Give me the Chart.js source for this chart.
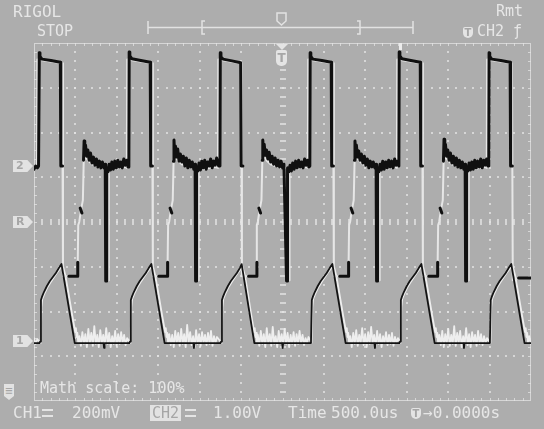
<!DOCTYPE html>
<html>
<head>
<meta charset="utf-8">
<script src="https://cdn.jsdelivr.net/npm/chart.js@4.4.0/dist/chart.umd.min.js"></script>
<style>
  html, body { margin: 0; padding: 0; background: #adadad; }
  #wrap { position: relative; width: 544px; height: 429px; overflow: hidden;
          font-family: "DejaVu Sans Mono", monospace; color: #e6e6e6; }
  #scope { position: absolute; left: 0; top: 0; }
  .t { position: absolute; white-space: pre; font-size: 16px; line-height: 16px; }
  .tag { position: absolute; width: 10px; height: 11px; background: #e4e4e4; color: #a6a6a6;
         font: bold 10px/11px "DejaVu Sans", sans-serif; text-align: center; border-radius: 2px 2px 5px 5px; }
  .tag.big { width: 11px; height: 16px; font-size: 12px; line-height: 16px; }
  .tri { position: absolute; width: 0; height: 0; border-left: 6px solid transparent;
         border-right: 6px solid transparent; border-top: 6px solid #e4e4e4; }
  .pill { position: absolute; left: 13px; width: 20px; height: 12px; box-sizing: border-box; padding-left: 3px;
          background: #e2e2e2; color: #a6a6a6; font: bold 11px/12px "DejaVu Sans", sans-serif;
          clip-path: polygon(0 0, 72% 0, 100% 50%, 72% 100%, 0 100%); }
  .inv { position: absolute; background: #e2e2e2; color: #a6a6a6; font-size: 15px; line-height: 16px; padding: 0 2px; }
  .dc { position: absolute; width: 11px; height: 4px; border-top: 2px solid #e4e4e4; border-bottom: 2px dashed #e4e4e4; }
  .mathicon { position: absolute; width: 10px; height: 16px; background: #e2e2e2; color: #a6a6a6;
              font: bold 10px/13px "DejaVu Sans", sans-serif; text-align: center;
              clip-path: polygon(0 0, 100% 0, 100% 75%, 50% 100%, 0 75%); }
</style>
</head>
<body>
<div id="wrap">
  <canvas id="scope" width="544" height="429"></canvas>

  <div class="t" style="left:13px;top:4px">RIGOL</div>
  <div class="t" style="left:37px;top:23px;font-size:15px">STOP</div>
  <div class="t" style="left:496px;top:3px;font-size:15px">Rmt</div>
  <div class="tag" style="left:463px;top:27px">T</div>
  <div class="t" style="left:477px;top:23px;font-size:15px">CH2</div>
  <div class="t" style="left:513px;top:23px;font-size:15px">ƒ</div>

  <div class="tri" style="left:276px;top:44px"></div>
  <div class="tag big" style="left:276px;top:50px">T</div>

  <div class="pill" style="top:160px">2</div>
  <div class="pill" style="top:216px">R</div>
  <div class="pill" style="top:335px">1</div>

  <div class="mathicon" style="left:4px;top:384px">≡</div>
  <div class="t" style="left:40px;top:380px;font-size:15px">Math scale: 100%</div>

  <div class="t" style="left:13px;top:405px">CH1</div>
  <div class="dc" style="left:42px;top:409px"></div>
  <div class="t" style="left:72px;top:405px">200mV</div>
  <div class="inv" style="left:150px;top:405px">CH2</div>
  <div class="dc" style="left:185px;top:409px"></div>
  <div class="t" style="left:213px;top:405px">1.00V</div>
  <div class="t" style="left:288px;top:405px">Time</div>
  <div class="t" style="left:331px;top:405px">500.0us</div>
  <div class="tag" style="left:411px;top:408px">T</div>
  <div class="t" style="left:423px;top:405px">→0.0000s</div>
</div>

<script>
// screen: 12 div x 500 us, 8 div vertical, trigger at centre
const timeMin = -3000, timeMax = 3000, timePerDiv = 500;
const ch1Scale = 200, ch1Pos = -2.66;   // mV/div, marker "1" (div from centre)
const ch2Scale = 1, ch2Pos = 1.25;      // V/div, marker "2"

// CH2 (dark trace), [time us, volts]; null = trace not drawn there
const ch2Volts = [
  [-3000, -0.07], [-2980, 0.00], [-2960, -0.04], [-2945, 0.00],
  [-2940, 0.00], [-2936, 2.53], [-2928, 2.45], [-2904, 2.39], [-2795, 2.36], [-2682, 2.32], [-2676, 0.00], [-2655, 0.00], [-2652, null],
  [-2580, -2.46], [-2475, -2.46], [-2472, -2.15], [-2470, null], [-2442, -0.94], [-2422, -1.05], [-2415, null],
  [-2402, 0.13], [-2395, 0.56], [-2387, 0.31], [-2378, 0.47], [-2365, 0.22], [-2350, 0.36], [-2334, 0.13], [-2318, 0.29], [-2300, 0.07], [-2282, 0.20], [-2264, 0.02], [-2246, 0.16], [-2228, -0.02], [-2210, 0.11], [-2192, -0.04], [-2174, 0.09], [-2156, -0.04], [-2140, 0.04],
  [-2134, -2.57], [-2126, -2.57], [-2122, -0.04],
  [-2108, -0.13], [-2092, 0.04], [-2076, -0.09], [-2060, 0.09], [-2042, -0.07], [-2024, 0.11], [-2006, -0.04], [-1988, 0.13], [-1970, -0.02], [-1952, 0.09], [-1934, -0.04], [-1916, 0.16], [-1898, 0.02], [-1880, 0.13], [-1865, -0.02],

  [-1855, 0.00], [-1851, 2.55], [-1843, 2.46], [-1819, 2.40], [-1710, 2.36], [-1597, 2.32], [-1591, 0.00], [-1570, 0.00], [-1567, null],
  [-1495, -2.46], [-1390, -2.46], [-1387, -2.15], [-1385, null], [-1357, -0.94], [-1337, -1.05], [-1330, null],
  [-1317, 0.11], [-1310, 0.58], [-1302, 0.29], [-1293, 0.45], [-1280, 0.20], [-1265, 0.38], [-1249, 0.11], [-1233, 0.27], [-1215, 0.09], [-1197, 0.22], [-1179, 0.00], [-1161, 0.18], [-1143, -0.04], [-1125, 0.13], [-1107, -0.02], [-1089, 0.09], [-1071, -0.07], [-1055, 0.04],
  [-1049, -2.57], [-1041, -2.57], [-1037, -0.04],
  [-1023, -0.11], [-1007, 0.07], [-991, -0.09], [-975, 0.11], [-957, -0.04], [-939, 0.13], [-921, -0.07], [-903, 0.09], [-885, 0.00], [-867, 0.16], [-849, -0.04], [-831, 0.11], [-813, 0.02], [-795, 0.18], [-770, 0.00],

  [-755, 0.00], [-751, 2.53], [-743, 2.44], [-719, 2.39], [-610, 2.35], [-505, 2.31], [-499, 0.00], [-478, 0.00], [-475, null],
  [-410, -2.46], [-312, -2.46], [-309, -2.15], [-307, null], [-285, -0.94], [-265, -1.05], [-258, null],
  [-245, 0.13], [-238, 0.58], [-230, 0.33], [-221, 0.49], [-208, 0.24], [-193, 0.36], [-177, 0.16], [-161, 0.31], [-143, 0.09], [-125, 0.22], [-107, 0.04], [-89, 0.18], [-71, 0.00], [-53, 0.13], [-35, -0.02], [-17, 0.11], [1, -0.04], [17, 0.04],
  [49, -2.57], [57, -2.57], [61, -0.04],
  [75, -0.13], [91, 0.02], [107, -0.11], [123, 0.07], [141, -0.07], [159, 0.11], [177, -0.04], [195, 0.13], [213, -0.02], [231, 0.09], [249, -0.04], [267, 0.16], [285, 0.02], [303, 0.13], [318, -0.02],

  [330, 0.00], [334, 2.53], [342, 2.45], [366, 2.39], [475, 2.36], [588, 2.32], [594, 0.00], [615, 0.00], [618, null],
  [690, -2.46], [795, -2.46], [798, -2.15], [800, null], [828, -0.94], [848, -1.05], [855, null],
  [868, 0.13], [875, 0.56], [883, 0.29], [892, 0.47], [905, 0.20], [920, 0.34], [936, 0.13], [952, 0.27], [970, 0.07], [988, 0.22], [1006, 0.02], [1024, 0.16], [1042, -0.04], [1060, 0.11], [1078, -0.02], [1096, 0.09], [1114, -0.04], [1130, 0.04],
  [1136, -2.57], [1144, -2.57], [1148, -0.04],
  [1162, -0.13], [1178, 0.04], [1194, -0.09], [1210, 0.11], [1228, -0.07], [1246, 0.09], [1264, -0.04], [1282, 0.13], [1300, -0.02], [1318, 0.11], [1336, -0.04], [1354, 0.16], [1372, 0.02], [1390, 0.11],

  [1405, 0.00], [1409, 2.55], [1417, 2.46], [1441, 2.40], [1550, 2.36], [1663, 2.32], [1669, 0.00], [1690, 0.00], [1693, null],
  [1765, -2.46], [1870, -2.46], [1873, -2.15], [1875, null], [1903, -0.94], [1923, -1.05], [1930, null],
  [1943, 0.11], [1950, 0.60], [1958, 0.31], [1967, 0.49], [1980, 0.22], [1995, 0.36], [2011, 0.13], [2027, 0.29], [2045, 0.07], [2063, 0.22], [2081, 0.02], [2099, 0.18], [2117, -0.02], [2135, 0.13], [2153, -0.04], [2171, 0.09], [2189, -0.07], [2205, 0.04],
  [2211, -2.57], [2219, -2.57], [2223, -0.04],
  [2237, -0.11], [2253, 0.07], [2269, -0.09], [2285, 0.09], [2303, -0.07], [2321, 0.13], [2339, -0.04], [2357, 0.11], [2375, -0.02], [2393, 0.16], [2411, -0.04], [2429, 0.13], [2447, 0.02], [2465, 0.16], [2480, 0.00],

  [2490, 0.00], [2494, 2.53], [2502, 2.45], [2526, 2.39], [2635, 2.36], [2748, 2.32], [2754, 0.00], [2775, 0.00], [2778, null],
  [2850, -2.50], [3000, -2.50]
];

// light trace (math), same volts scale as CH2
const mathVolts = [
  [-3000, -0.07],
  [-2964, -0.04], [-2960, 2.38], [-2660, 2.30], [-2650, -2.46], [-2474, -2.46], [-2466, -1.32], [-2454, -1.25], [-2432, -0.98], [-2410, -0.76], [-2400, 0.09], [-2384, 0.22], [-2350, 0.13], [-2300, 0.04], [-2240, 0.00], [-2180, -0.04], [-2110, -0.04], [-2107, -2.55], [-2100, -2.55], [-2097, -0.04], [-2040, -0.07], [-1960, -0.04], [-1900, -0.02],
  [-1879, -0.04], [-1875, 2.38], [-1575, 2.30], [-1565, -2.46], [-1389, -2.46], [-1381, -1.32], [-1369, -1.25], [-1347, -0.98], [-1325, -0.76], [-1315, 0.09], [-1299, 0.22], [-1265, 0.13], [-1215, 0.04], [-1155, 0.00], [-1095, -0.04], [-1025, -0.04], [-1022, -2.55], [-1015, -2.55], [-1012, -0.04], [-955, -0.07], [-875, -0.04], [-815, -0.02],
  [-779, -0.04], [-775, 2.38], [-500, 2.30], [-490, -2.46], [-318, -2.46], [-310, -1.32], [-298, -1.25], [-276, -0.98], [-254, -0.76], [-244, 0.09], [-228, 0.22], [-194, 0.13], [-144, 0.04], [-84, 0.00], [-24, -0.04], [72, -0.04], [75, -2.55], [82, -2.55], [85, -0.04], [140, -0.07], [220, -0.04], [280, -0.02],
  [306, -0.04], [310, 2.38], [610, 2.30], [620, -2.46], [796, -2.46], [804, -1.32], [816, -1.25], [838, -0.98], [860, -0.76], [870, 0.09], [886, 0.22], [920, 0.13], [970, 0.04], [1030, 0.00], [1090, -0.04], [1160, -0.04], [1163, -2.55], [1170, -2.55], [1173, -0.04], [1230, -0.07], [1310, -0.04], [1370, -0.02],
  [1381, -0.04], [1385, 2.38], [1685, 2.30], [1695, -2.46], [1871, -2.46], [1879, -1.32], [1891, -1.25], [1913, -0.98], [1935, -0.76], [1945, 0.09], [1961, 0.22], [1995, 0.13], [2045, 0.04], [2105, 0.00], [2165, -0.04], [2235, -0.04], [2238, -2.55], [2245, -2.55], [2248, -0.04], [2305, -0.07], [2385, -0.04], [2445, -0.02],
  [2466, -0.04], [2470, 2.38], [2770, 2.30], [2780, -2.55], [2860, -2.50], [3000, -2.50]
];

// CH1 (thin dark trace), [time us, mV]
const ch1MilliVolts = [
  [-3000, -9],
  [-2934, -9], [-2926, -2], [-2916, 183], [-2904, 197], [-2880, 219], [-2844, 246], [-2808, 268], [-2772, 286], [-2736, 304], [-2700, 326], [-2668, 344], [-2508, -9], [-2160, -9], [-2154, -31], [-2148, -9],
  [-1849, -9], [-1841, -2], [-1831, 183], [-1819, 197], [-1795, 219], [-1759, 246], [-1723, 268], [-1687, 286], [-1651, 304], [-1615, 326], [-1583, 344], [-1423, -9], [-1075, -9], [-1069, -31], [-1063, -9],
  [-749, -9], [-741, -2], [-731, 183], [-719, 197], [-695, 219], [-659, 246], [-623, 268], [-587, 286], [-551, 304], [-515, 326], [-493, 344], [-340, -9], [-4, -9], [2, -31], [8, -9],
  [336, -9], [344, -2], [354, 183], [366, 197], [390, 219], [426, 246], [462, 268], [498, 286], [534, 304], [570, 326], [602, 344], [762, -9], [1110, -9], [1116, -31], [1122, -9],
  [1411, -9], [1419, -2], [1429, 183], [1441, 197], [1465, 219], [1501, 246], [1537, 268], [1573, 286], [1609, 304], [1645, 326], [1677, 344], [1837, -9], [2185, -9], [2191, -31], [2197, -9],
  [2496, -9], [2504, -2], [2514, 183], [2526, 197], [2550, 219], [2586, 246], [2622, 268], [2658, 286], [2694, 304], [2730, 326], [2762, 344], [2922, -9], [3000, -9]
];

// CH1 light noise envelope, [time us, mV]
const ch1NoiseMilliVolts = [
  [-3000, 13], [-2980, -13], [-2960, 9],
  [-2920, -9], [-2910, 150], [-2900, 188], [-2874, 212], [-2838, 240], [-2802, 262], [-2766, 282], [-2730, 302], [-2694, 320], [-2664, 336],
  [-2650, 336], [-2620, 290], [-2580, 205], [-2540, 118], [-2515, 66], [-2502, 40], [-2494, 58], [-2485, 18], [-2476, 36], [-2466, -9],
  [-2452, 22], [-2434, -22], [-2416, 40], [-2398, -13], [-2380, 31], [-2362, -27], [-2344, 54], [-2326, -9], [-2308, 36], [-2290, -22], [-2272, 67], [-2254, -13], [-2236, 27], [-2218, -27], [-2200, 49], [-2182, -9], [-2164, 27], [-2146, -18], [-2128, 58], [-2110, -13], [-2092, 36], [-2074, -27], [-2056, 22], [-2038, -13], [-2020, 45], [-2002, -22], [-1984, 31], [-1966, -13], [-1948, 40], [-1930, -9], [-1912, 27], [-1894, -18], [-1876, 13],

  [-1835, -9], [-1825, 150], [-1815, 188], [-1789, 212], [-1753, 240], [-1717, 262], [-1681, 282], [-1645, 302], [-1609, 320], [-1579, 336],
  [-1565, 336], [-1535, 290], [-1495, 205], [-1455, 118], [-1430, 66], [-1417, 40], [-1409, 58], [-1400, 18], [-1391, 36], [-1381, -9],
  [-1367, 31], [-1349, -18], [-1331, 27], [-1313, -27], [-1295, 45], [-1277, -9], [-1259, 36], [-1241, -22], [-1223, 54], [-1205, -13], [-1187, 31], [-1169, -27], [-1151, 72], [-1133, -9], [-1115, 40], [-1097, -18], [-1079, 22], [-1061, -27], [-1043, 49], [-1025, -13], [-1007, 31], [-989, -22], [-971, 40], [-953, -9], [-935, 27], [-917, -18], [-899, 36], [-881, -13], [-863, 45], [-845, -22], [-827, 22], [-809, -9], [-791, 18],

  [-735, -9], [-725, 150], [-715, 188], [-689, 212], [-653, 240], [-617, 262], [-581, 282], [-545, 302], [-509, 320], [-487, 336],
  [-478, 336], [-452, 290], [-415, 205], [-378, 118], [-355, 66], [-343, 40], [-335, 58], [-327, 18], [-319, 36], [-310, -9],
  [-298, 27], [-280, -22], [-262, 45], [-244, -13], [-226, 31], [-208, -27], [-190, 58], [-172, -9], [-154, 31], [-136, -22], [-118, 63], [-100, -13], [-82, 22], [-64, -27], [-46, 45], [-28, -9], [-10, 31], [8, -18], [26, 54], [44, -13], [62, 36], [80, -27], [98, 27], [116, -13], [134, 40], [152, -22], [170, 31], [188, -13], [206, 45], [224, -9], [242, 27], [260, -18], [278, 13], [296, -9], [314, 18],

  [350, -9], [360, 150], [370, 188], [396, 212], [432, 240], [468, 262], [504, 282], [540, 302], [576, 320], [606, 336],
  [620, 336], [650, 290], [690, 205], [730, 118], [755, 66], [768, 40], [776, 58], [785, 18], [794, 36], [804, -9],
  [818, 22], [836, -27], [854, 36], [872, -13], [890, 49], [908, -22], [926, 27], [944, -9], [962, 58], [980, -18], [998, 31], [1016, -27], [1034, 40], [1052, -13], [1070, 63], [1088, -9], [1106, 27], [1124, -22], [1142, 45], [1160, -13], [1178, 31], [1196, -27], [1214, 22], [1232, -9], [1250, 40], [1268, -18], [1286, 27], [1304, -13], [1322, 36], [1340, -22], [1358, 18], [1376, -9], [1394, 13],

  [1425, -9], [1435, 150], [1445, 188], [1471, 212], [1507, 240], [1543, 262], [1579, 282], [1615, 302], [1651, 320], [1681, 336],
  [1695, 336], [1725, 290], [1765, 205], [1805, 118], [1830, 66], [1843, 40], [1851, 58], [1860, 18], [1869, 36], [1879, -9],
  [1893, 27], [1911, -18], [1929, 45], [1947, -27], [1965, 31], [1983, -9], [2001, 54], [2019, -22], [2037, 27], [2055, -13], [2073, 67], [2091, -22], [2109, 36], [2127, -9], [2145, 45], [2163, -27], [2181, 22], [2199, -13], [2217, 58], [2235, -18], [2253, 31], [2271, -27], [2289, 40], [2307, -9], [2325, 27], [2343, -22], [2361, 45], [2379, -13], [2397, 31], [2415, -18], [2433, 22], [2451, -9], [2469, 13],

  [2510, -9], [2520, 150], [2530, 188], [2556, 212], [2592, 240], [2628, 262], [2664, 282], [2700, 302], [2736, 320], [2766, 336],
  [2780, 336], [2810, 290], [2850, 205], [2890, 118], [2915, 66], [2928, 40], [2936, 58], [2945, 18], [2954, 36], [2964, -9],
  [2978, 22], [3000, -13]
];

// put a channel's readings on the 8-division screen
function place(points, pos, scale) {
  return points.map(([t, v]) => ({ x: t, y: v === null ? null : pos + v / scale }));
}

const light = 'rgba(228,228,228,0.75)';

const graticule = {
  id: 'graticule',
  beforeDraw(chart) {
    const ctx = chart.ctx;
    ctx.save();
    ctx.strokeStyle = '#e2e2e2';
    ctx.lineWidth = 1.5;
    ctx.beginPath();
    ctx.moveTo(148, 27.5); ctx.lineTo(413, 27.5);
    ctx.moveTo(148, 21); ctx.lineTo(148, 34);
    ctx.moveTo(413, 21); ctx.lineTo(413, 34);
    ctx.moveTo(205, 21); ctx.lineTo(202, 21); ctx.lineTo(202, 34); ctx.lineTo(205, 34);
    ctx.moveTo(357, 21); ctx.lineTo(360, 21); ctx.lineTo(360, 34); ctx.lineTo(357, 34);
    ctx.stroke();
    // position marker on the bar
    ctx.beginPath();
    ctx.moveTo(277, 13); ctx.lineTo(286, 13); ctx.lineTo(286, 21); ctx.lineTo(281.5, 25); ctx.lineTo(277, 21); ctx.closePath();
    ctx.stroke();
    ctx.restore();
  },
  beforeDatasetsDraw(chart) {
    const { ctx, chartArea: a, scales: { x, y } } = chart;
    const L = Math.round(a.left), R = Math.round(a.right), T = Math.round(a.top), B = Math.round(a.bottom);
    ctx.save();
    ctx.fillStyle = light;
    // dotted division lines
    for (let d = -5; d <= 5; d++) {
      if (d === 0) continue;
      const px = Math.round(x.getPixelForValue(d * timePerDiv));
      for (let k = 1; k < 40; k++) {
        const py = Math.round(y.getPixelForValue(-4 + k * 0.2));
        ctx.fillRect(px - 1, py - 1, 2, 2);
      }
    }
    for (let d = -3; d <= 3; d++) {
      if (d === 0) continue;
      const py = Math.round(y.getPixelForValue(d));
      for (let k = 1; k < 60; k++) {
        const px = Math.round(x.getPixelForValue(timeMin + k * 100));
        ctx.fillRect(px - 1, py - 1, 2, 2);
      }
    }
    // centre axes with minor ticks
    const cx = Math.round(x.getPixelForValue(0)), cy = Math.round(y.getPixelForValue(0));
    for (let k = 1; k < 40; k++) {
      const py = Math.round(y.getPixelForValue(-4 + k * 0.2));
      ctx.fillRect(cx - 3, py - 1, 6, 2);
    }
    for (let k = 1; k < 60; k++) {
      const px = Math.round(x.getPixelForValue(timeMin + k * 100));
      ctx.fillRect(px - 1, cy - 3, 2, 6);
    }
    // frame and its ticks
    ctx.strokeStyle = light;
    ctx.lineWidth = 1;
    ctx.strokeRect(L + 0.5, T + 0.5, R - L - 1, B - T - 1);
    for (let k = 1; k < 60; k++) {
      const px = Math.round(x.getPixelForValue(timeMin + k * 100));
      ctx.fillRect(px, T, 1, 3);
      ctx.fillRect(px, B - 3, 1, 3);
    }
    for (let k = 1; k < 40; k++) {
      const py = Math.round(y.getPixelForValue(-4 + k * 0.2));
      ctx.fillRect(L, py, 3, 1);
      ctx.fillRect(R - 3, py, 3, 1);
    }
    // small marker on top edge
    ctx.fillStyle = '#ececec';
    ctx.fillRect(399, T, 3, 7);
    ctx.restore();
  }
};

new Chart(document.getElementById('scope'), {
  type: 'line',
  data: {
    datasets: [
      { label: 'CH2', data: place(ch2Volts, ch2Pos, ch2Scale), borderColor: '#101010', borderWidth: 3 },
      { label: 'CH1', data: place(ch1MilliVolts, ch1Pos, ch1Scale), borderColor: '#141414', borderWidth: 1.8 },
      { label: 'MATH', data: place(mathVolts, ch2Pos, ch2Scale), borderColor: '#e6e6e6', borderWidth: 2 },
      { label: 'CH1 noise', data: place(ch1NoiseMilliVolts, ch1Pos, ch1Scale), borderColor: '#eeeeee', borderWidth: 1.8 }
    ]
  },
  options: {
    responsive: false,
    animation: false,
    devicePixelRatio: 1,
    layout: { padding: { left: 34, top: 43, right: 13, bottom: 28 } },
    elements: {
      point: { radius: 0 },
      line: { tension: 0, fill: false, borderJoinStyle: 'round', borderCapStyle: 'round' }
    },
    plugins: { legend: { display: false }, tooltip: { enabled: false } },
    scales: {
      x: { type: 'linear', min: timeMin, max: timeMax, display: false },
      y: { type: 'linear', min: -4, max: 4, display: false }
    }
  },
  plugins: [graticule]
});
</script>
</body>
</html>
